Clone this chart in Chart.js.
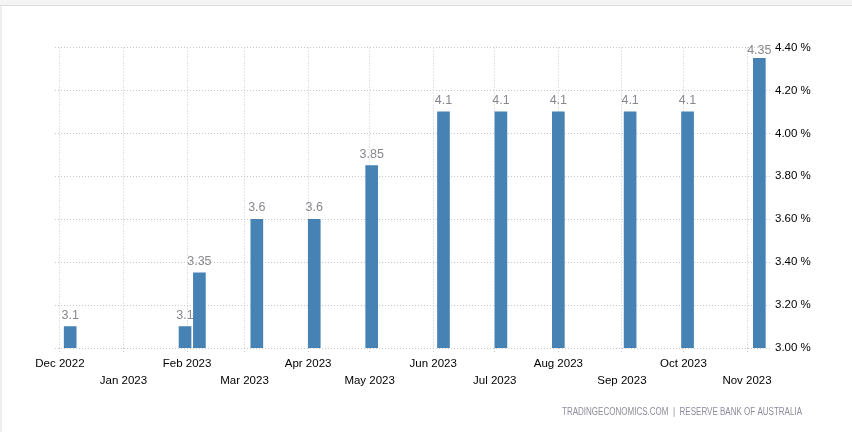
<!DOCTYPE html>
<html><head><meta charset="utf-8">
<script src="https://cdn.jsdelivr.net/npm/chart.js@4.4.1/dist/chart.umd.min.js"></script>
<style>
html,body{margin:0;padding:0;background:#fff;overflow:hidden}
#wrap{position:relative;width:852px;height:432px}
#topband{position:absolute;left:0;top:0;width:852px;height:5px;background:#f4f4f4;border-bottom:1px solid #dcdcdc}
#leftband{position:absolute;left:0;top:6px;width:2px;height:426px;background:#eeeeee}
canvas{position:absolute;left:0;top:0}
</style></head><body>
<div id="wrap">
<canvas id="c" width="852" height="432"></canvas>
<div id="topband"></div><div id="leftband"></div>
</div>
<script>
// ---- data ----
const dates = ['2022-12-06','2023-01-31','2023-02-07','2023-03-07','2023-04-04','2023-05-02','2023-06-06','2023-07-04','2023-08-01','2023-09-05','2023-10-03','2023-11-07'];
const rates = [3.1, 3.1, 3.35, 3.6, 3.6, 3.85, 4.1, 4.1, 4.1, 4.1, 4.1, 4.35];
const monthStarts = ['2022-12-01','2023-01-01','2023-02-01','2023-03-01','2023-04-01','2023-05-01','2023-06-01','2023-07-01','2023-08-01','2023-09-01','2023-10-01','2023-11-01'];
const monthLabels = ['Dec 2022','Jan 2023','Feb 2023','Mar 2023','Apr 2023','May 2023','Jun 2023','Jul 2023','Aug 2023','Sep 2023','Oct 2023','Nov 2023'];
const yMin = 3.0, yMax = 4.4, yStep = 0.2;
const source = 'TRADINGECONOMICS.COM  |  RESERVE BANK OF AUSTRALIA';

const dayOf = s => Date.parse(s + 'T00:00:00Z') / 86400000;
const points = dates.map((d, i) => ({x: dayOf(d), y: rates[i]}));
const tickDays = monthStarts.map(dayOf);
const xMin = dayOf('2022-12-01') - 2.4;
const xMax = dayOf('2023-11-12') + 0.2;

const valueLabels = {
  id: 'valueLabels',
  afterDatasetsDraw(chart) {
    const ctx = chart.ctx;
    const meta = chart.getDatasetMeta(0);
    ctx.save();
    ctx.font = '12.5px "Liberation Sans", Arial, sans-serif';
    ctx.fillStyle = '#88888f';
    ctx.textAlign = 'center';
    ctx.textBaseline = 'alphabetic';
    meta.data.forEach((el, i) => {
      const y = Math.max(el.y - 8, chart.chartArea.top + 6.5);
      ctx.fillText(String(rates[i]), el.x, y);
    });
    ctx.restore();
  }
};

const footer = {
  id: 'footer',
  afterDraw(chart) {
    const ctx = chart.ctx;
    ctx.save();
    ctx.font = '10px "Liberation Sans", Arial, sans-serif';
    ctx.fillStyle = '#8c8c9c';
    ctx.textBaseline = 'alphabetic';
    const w = ctx.measureText(source).width;
    const target = 240;
    const right = chart.chartArea.right + 32;
    ctx.translate(right - target, 415);
    ctx.scale(target / w, 1);
    ctx.fillText(source, 0, 0);
    ctx.restore();
  }
};

new Chart(document.getElementById('c'), {
  type: 'bar',
  data: {
    datasets: [{
      data: points,
      backgroundColor: '#4682b4',
      borderWidth: 0,
      barThickness: 12
    }]
  },
  options: {
    responsive: false,
    animation: false,
    layout: {padding: {left: 55, top: 47.5, right: 0, bottom: 0}},
    plugins: {legend: {display: false}, tooltip: {enabled: false}},
    scales: {
      x: {
        type: 'linear',
        offset: false,
        min: xMin,
        max: xMax,
        afterBuildTicks(scale) { scale.ticks = tickDays.map(v => ({value: v})); },
        afterFit(scale) { scale.height = 84; },
        grid: {offset: false, color: '#c8c8c8', tickLength: 4, tickColor: '#c8c8c8', tickBorderDash: [1, 2]},
        border: {display: false, dash: [1, 2]},
        ticks: {
          autoSkip: false,
          maxRotation: 0,
          minRotation: 0,
          padding: 3.5,
          color: '#000',
          font: {family: '"Liberation Sans", Arial, sans-serif', size: 11.5, lineHeight: 17 / 11.5},
          callback(value, index) {
            const i = tickDays.indexOf(value);
            const lbl = monthLabels[i >= 0 ? i : index];
            return (i % 2 === 0) ? [lbl] : ['', lbl];
          }
        }
      },
      y: {
        position: 'right',
        min: yMin,
        max: yMax,
        afterFit(scale) { scale.width = 82; },
        grid: {color: '#c8c8c8', drawTicks: false},
        border: {display: false, dash: [1, 2]},
        ticks: {
          stepSize: yStep,
          padding: 5,
          color: '#000',
          font: {family: '"Liberation Sans", Arial, sans-serif', size: 11.5},
          callback: v => v.toFixed(2) + ' %'
        }
      }
    }
  },
  plugins: [valueLabels, footer]
});
</script>
</body></html>
